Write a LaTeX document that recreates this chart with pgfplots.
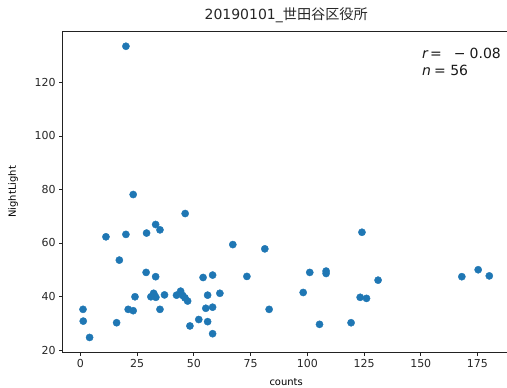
\documentclass[border=0pt]{standalone}
\usepackage{fontspec}
\setmainfont{DejaVu Sans}
\newfontfamily\cjk{Noto Sans CJK JP}[Scale=1.01]
\usepackage{pgfplots}
\pgfplotsset{compat=1.18}
\definecolor{mplblue}{HTML}{1F77B4}
\definecolor{spine}{HTML}{222222}

\pgfplotstableread{
x y
23.3 78.1
46.2 71.0
33.2 66.9
35.1 64.9
29.2 63.7
20.1 63.2
11.3 62.3
67.2 59.4
81.3 57.8
17.2 53.6
29.0 49.0
33.2 47.4
54.1 47.1
58.3 48.0
73.4 47.5
24.1 39.9
31.1 39.9
32.3 41.2
33.3 39.7
37.1 40.6
42.4 40.5
44.2 42.0
45.1 40.4
46.1 39.5
47.3 38.3
56.1 40.5
61.5 41.2
1.2 35.2
21.1 35.2
23.3 34.7
35.1 35.2
55.3 35.6
58.3 36.0
83.2 35.2
1.3 30.8
16.0 30.2
52.2 31.4
56.1 30.6
48.3 29.0
4.1 24.7
58.3 26.1
20.1 133.5
124.1 64.0
101.1 49.0
108.3 49.5
108.3 48.6
131.2 46.1
98.2 41.5
123.3 39.7
126.1 39.3
105.4 29.6
119.3 30.2
168.1 47.4
175.3 50.0
180.2 47.7
32.6 40.6
}\counts

\begin{document}
\begin{tikzpicture}[x=1bp,y=1bp]
\begin{axis}[
  at={(0,0)}, anchor=south west,
  width=446.9bp, height=320.3bp, scale only axis,
  xmin=-7.75, xmax=189.15, ymin=19.26, ymax=138.94,
  xtick={0,25,...,175}, ytick={20,40,...,120},
  tick align=outside, xtick pos=lower, ytick pos=left,
  major tick length=3.5bp,
  every tick/.style={spine, line width=0.8bp},
  axis line style={spine, line width=0.8bp},
  ticklabel style={font=\fontsize{11bp}{13bp}\selectfont, text=black!85},
  /pgf/number format/assume math mode=true,
  scaled ticks=false,
  xlabel={counts}, ylabel={NightLight},
  label style={font=\fontsize{11bp}{13bp}\selectfont, text=black!85},
  every axis x label/.style={at={(axis description cs:0.5,-0.093)}, anchor=center},
  every axis y label/.style={at={(axis description cs:-0.111,0.5)}, rotate=90, anchor=center},
  title={20190101\_{\cjk 世田谷区役所}},
  every axis title/.style={at={(axis description cs:0.5,1.052)}, anchor=center,
    font=\fontsize{14bp}{16bp}\selectfont, text=black!85},
  clip=false,
]
\addplot[only marks, mark=*, mark size=3.6bp,
  mark options={draw=mplblue, fill=mplblue}] table[x=x, y=y] {\counts};
% correlation coefficient and sample size
\node[anchor=base west, inner sep=0, font=\fontsize{14bp}{16bp}\selectfont, text=black!90]
  at (rel axis cs:0.804,0.917) {\textit{r}\hspace{1.5bp}=\hspace{12bp}−\hspace{4bp}0.08};
\node[anchor=base west, inner sep=0, font=\fontsize{14bp}{16bp}\selectfont, text=black!90]
  at (rel axis cs:0.804,0.8617) {\textit{n}\hspace{3bp}=\hspace{4.5bp}56};
\end{axis}
\pgfresetboundingbox
\path (-62.7,-35) rectangle (444.3,352);
\end{tikzpicture}
\end{document}
